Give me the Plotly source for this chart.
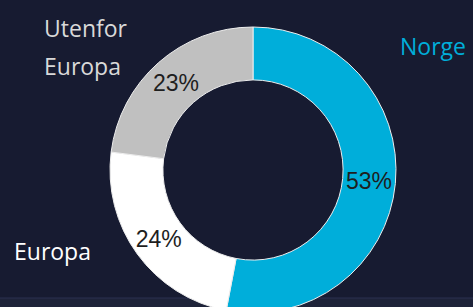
import plotly.graph_objects as go

regions = ["Norge", "Europa", "Utenfor Europa"]
shares = [53, 24, 23]
slice_colors = ["#00AEDA", "#FFFFFF", "#C0C0C0"]

W, H = 473, 313

fig = go.Figure(go.Pie(
    labels=regions,
    values=shares,
    sort=False,
    direction="clockwise",
    rotation=0,
    hole=0.63,
    marker=dict(colors=slice_colors, line=dict(color="#EDEDED", width=1)),
    texttemplate="%{value}%",
    textposition="inside",
    insidetextorientation="horizontal",
    textfont=dict(family="Liberation Sans, Arial, sans-serif", size=23, color="#1E1E1E"),
    showlegend=False,
    domain=dict(x=[(253 - 143) / W, (253 + 143) / W], y=[0, 286 / H]),
))

def ann(text, x, y, color, anchor="left"):
    fig.add_annotation(text=text, x=x / W, y=1 - y / H, xref="paper", yref="paper",
                       xanchor=anchor, yanchor="middle", showarrow=False,
                       font=dict(family="Open Sans, sans-serif", size=23, color=color))

ann(regions[0], 398, 46, "#00AEDA")
ann("Utenfor", 42, 28, "#D9D9D9")
ann("Europa", 42, 66, "#D9D9D9")
ann(regions[1], 12, 251, "#FFFFFF")

# subtle lighter strip near the bottom edge of the background
fig.add_shape(type="rect", xref="paper", yref="paper", x0=0, x1=1,
              y0=0, y1=1 - 298 / H, fillcolor="#1E2339", line=dict(width=0), layer="below")
fig.add_shape(type="line", xref="paper", yref="paper", x0=0, x1=1,
              y0=1 - 298 / H, y1=1 - 298 / H, line=dict(color="#2A3050", width=1), layer="below")

fig.update_layout(
    width=W, height=H,
    margin=dict(l=0, r=0, t=0, b=0),
    paper_bgcolor="#171B31",
    plot_bgcolor="#171B31",
)

fig.write_html("out.html", config={"displayModeBar": False},
               post_script="document.body.style.margin='0';document.body.style.overflow='hidden';document.documentElement.style.overflow='hidden';")
